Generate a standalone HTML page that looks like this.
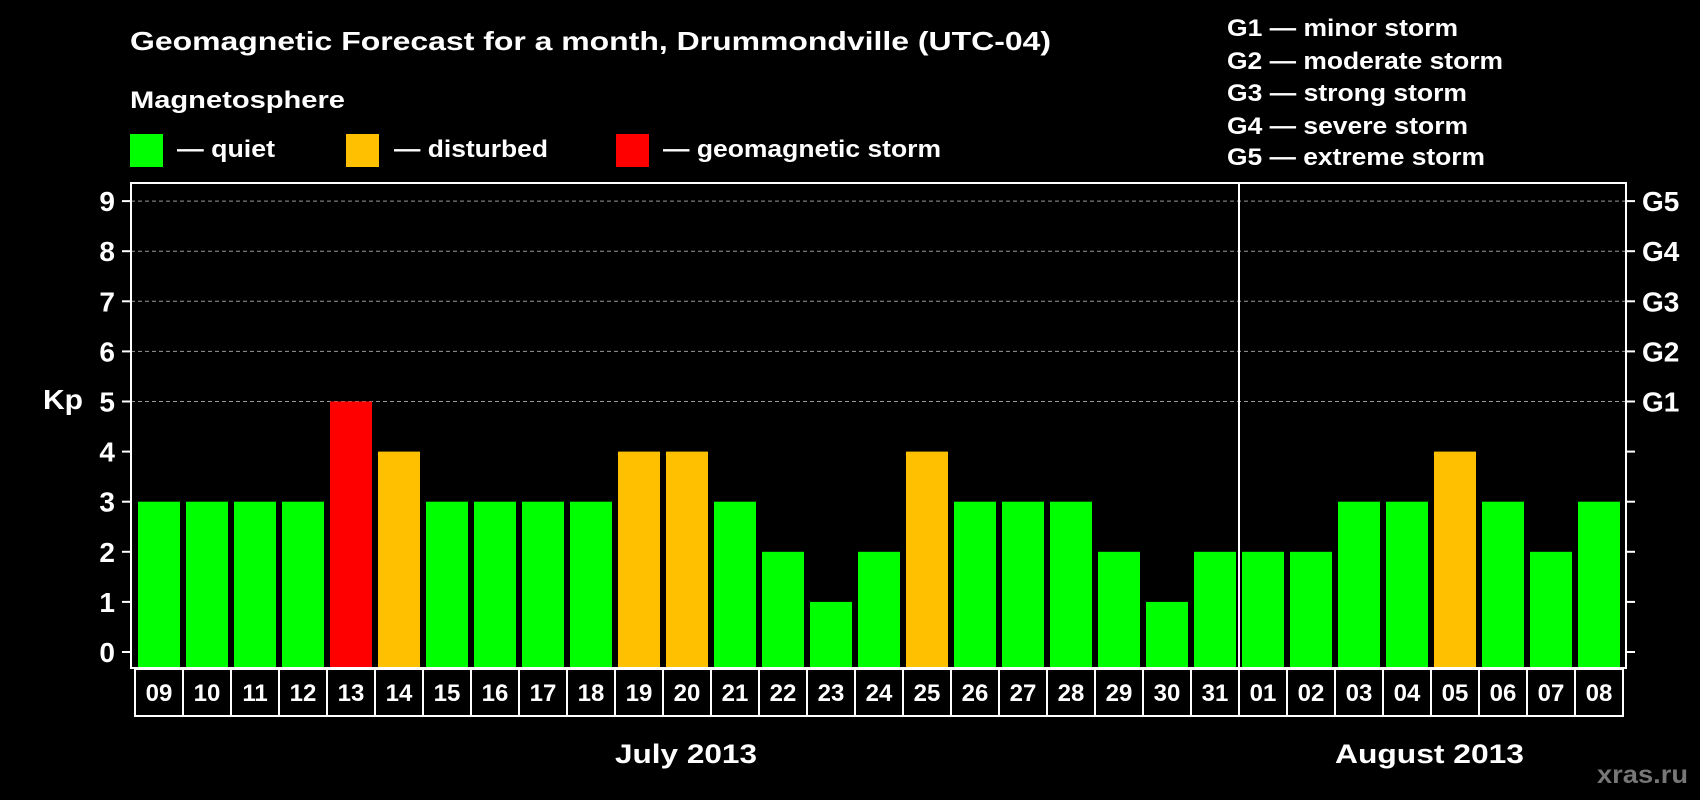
<!DOCTYPE html>
<html><head><meta charset="utf-8"><style>
html,body{margin:0;padding:0;background:#000;}
svg{display:block;font-family:"Liberation Sans",Arial,sans-serif;font-weight:bold;}
</style></head><body>
<svg id="chart" width="1700" height="800" viewBox="0 0 1700 800">
<text x="130" y="50" fill="#fff" font-size="26" textLength="921" lengthAdjust="spacingAndGlyphs">Geomagnetic Forecast for a month, Drummondville (UTC-04)</text>
<text x="130" y="108" fill="#fff" font-size="24" textLength="215" lengthAdjust="spacingAndGlyphs">Magnetosphere</text>
<g><rect x="130" y="134" width="33" height="33" fill="#00ff00"/><text x="177" y="157" fill="#fff" font-size="24" textLength="98" lengthAdjust="spacingAndGlyphs">— quiet</text></g>
<g><rect x="346" y="134" width="33" height="33" fill="#ffc000"/><text x="394" y="157" fill="#fff" font-size="24" textLength="154" lengthAdjust="spacingAndGlyphs">— disturbed</text></g>
<g><rect x="616" y="134" width="33" height="33" fill="#ff0000"/><text x="663" y="157" fill="#fff" font-size="24" textLength="278" lengthAdjust="spacingAndGlyphs">— geomagnetic storm</text></g>
<g fill="#fff" font-size="24">
<text x="1227" y="36" textLength="231" lengthAdjust="spacingAndGlyphs">G1 — minor storm</text>
<text x="1227" y="69" textLength="276" lengthAdjust="spacingAndGlyphs">G2 — moderate storm</text>
<text x="1227" y="101" textLength="240" lengthAdjust="spacingAndGlyphs">G3 — strong storm</text>
<text x="1227" y="134" textLength="241" lengthAdjust="spacingAndGlyphs">G4 — severe storm</text>
<text x="1227" y="165" textLength="258" lengthAdjust="spacingAndGlyphs">G5 — extreme storm</text>
</g>
<text x="43" y="409" fill="#fff" font-size="28" textLength="40" lengthAdjust="spacingAndGlyphs">Kp</text>
<text x="615" y="763" fill="#fff" font-size="27" textLength="142" lengthAdjust="spacingAndGlyphs">July 2013</text>
<text x="1335" y="763" fill="#fff" font-size="27" textLength="189" lengthAdjust="spacingAndGlyphs">August 2013</text>
<text x="1597" y="783" fill="#777" font-size="25" textLength="91" lengthAdjust="spacingAndGlyphs">xras.ru</text>
<g id="plot"></g>
</svg>
<script>
const categories = ["09","10","11","12","13","14","15","16","17","18","19","20","21","22","23","24","25","26","27","28","29","30","31","01","02","03","04","05","06","07","08"];
const kpValues = [3,3,3,3,5,4,3,3,3,3,4,4,3,2,1,2,4,3,3,3,2,1,2,2,2,3,3,4,3,2,3];
const yTicks = [0,1,2,3,4,5,6,7,8,9];
const gLabels = ["G1","G2","G3","G4","G5"];
const gLevels = [5,6,7,8,9];
const monthSplitIndex = 23;

(function(){
const NS = "http://www.w3.org/2000/svg";
const plot = document.getElementById('plot');
const pLeft = 131, pRight = 1626, pTop = 183, pBottom = 668;
const barStart = 138, pitch = (pRight - barStart) / categories.length, barW = pitch - 6;
const yS = v => 652 - v * 50.1;
const xS = i => barStart + i * pitch;
function mk(tag, attrs){const e=document.createElementNS(NS,tag);for(const k in attrs)e.setAttribute(k,attrs[k]);plot.appendChild(e);return e;}
function color(v){return v>=5?'#ff0000':(v>=4?'#ffc000':'#00ff00');}

gLevels.forEach(v=>{
  const l=mk('line',{x1:pLeft,x2:pRight,y1:yS(v),y2:yS(v),stroke:'#999','stroke-width':1,'stroke-dasharray':'4,3'});
  
  
});
kpValues.forEach((v,i)=>{
  const r=mk('rect',{x:xS(i),y:yS(v),width:barW,height:pBottom-yS(v),fill:color(v)});
  
  
});
const fr=mk('rect',{x:pLeft,y:pTop,width:pRight-pLeft,height:pBottom-pTop,fill:'none',stroke:'#fff','stroke-width':2});


const sep=mk('line',{x1:xS(monthSplitIndex)-3,x2:xS(monthSplitIndex)-3,y1:pTop,y2:pBottom,stroke:'#fff','stroke-width':2});


yTicks.forEach(v=>{
  mk('line',{x1:pLeft-9,x2:pLeft,y1:yS(v),y2:yS(v),stroke:'#fff','stroke-width':2});
  mk('line',{x1:pRight,x2:pRight+9,y1:yS(v),y2:yS(v),stroke:'#fff','stroke-width':2});
  const t=mk('text',{x:115,y:yS(v)+10,fill:'#fff','font-size':28,'text-anchor':'end'});
  t.textContent=v;
  
  
});
gLabels.forEach((g,i)=>{
  const t=mk('text',{x:1642,y:yS(gLevels[i])+10,fill:'#fff','font-size':28});
  t.textContent=g;
  
  
});
categories.forEach((c,i)=>{
  const bx=xS(i)-3;
  const r=mk('rect',{x:bx,y:pBottom+1,width:pitch,height:47,fill:'none',stroke:'#fff','stroke-width':2});
  
  
  const t=mk('text',{x:bx+pitch/2,y:pBottom+33,fill:'#fff','font-size':24,'text-anchor':'middle'});
  t.textContent=c;
  
  
});
})();
</script>
</body></html>
